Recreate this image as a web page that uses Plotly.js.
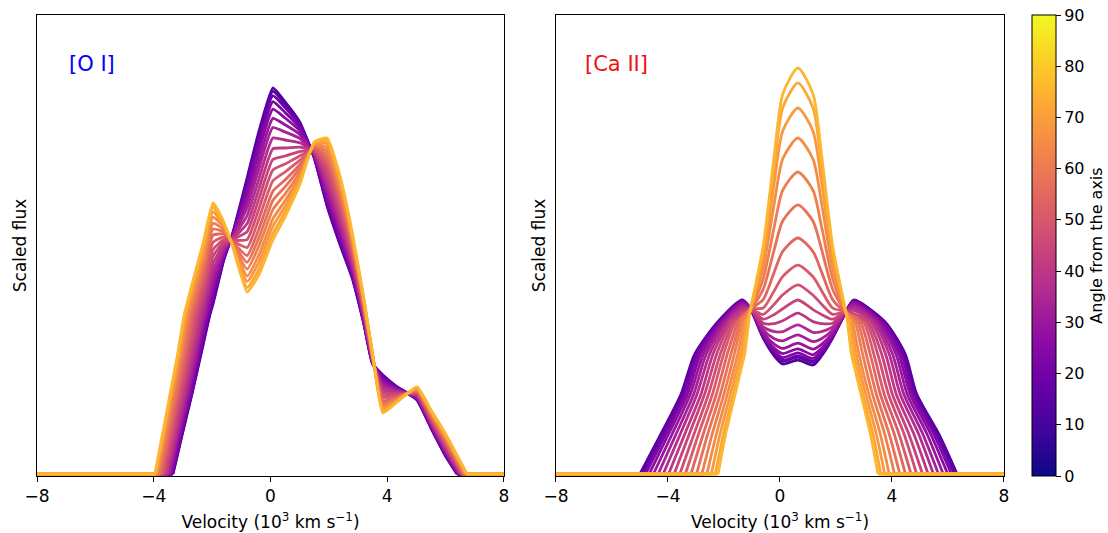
<!DOCTYPE html>
<html><head><meta charset="utf-8">
<script src="https://cdn.plot.ly/plotly-3.0.1.min.js"></script>
<style>body{margin:0;background:#fff}#chart{width:1108px;height:533px}</style>
</head><body><div id="chart"></div>
<script>
// ---------- data ----------
const angles = [0,5,10,15,20,25,30,35,40,45,50,55,60,65,70,75,80,85,90];
const velEdges = [-8, 8];
const velTicks = [-8, -4, 0, 4, 8];
const angleTicks = [0,10,20,30,40,50,60,70,80,90];

// [O I] : left wing (velocity where flux reaches given levels)
const oiWingFlux = [0, 10, 20, 30, 40];
const oiWingVel = [
 [-3.34,-3.02,-2.69,-2.38,-2.07],[-3.35,-3.03,-2.70,-2.39,-2.08],[-3.36,-3.04,-2.71,-2.40,-2.10],
 [-3.38,-3.07,-2.74,-2.44,-2.13],[-3.41,-3.10,-2.78,-2.48,-2.18],[-3.45,-3.14,-2.82,-2.52,-2.22],
 [-3.48,-3.18,-2.86,-2.56,-2.27],[-3.53,-3.22,-2.92,-2.62,-2.33],[-3.57,-3.27,-2.97,-2.68,-2.40],
 [-3.62,-3.33,-3.03,-2.74,-2.47],[-3.67,-3.38,-3.09,-2.80,-2.54],[-3.72,-3.43,-3.15,-2.87,-2.61],
 [-3.76,-3.48,-3.20,-2.92,-2.67],[-3.80,-3.53,-3.25,-2.98,-2.73],[-3.85,-3.58,-3.31,-3.04,-2.79],
 [-3.89,-3.62,-3.35,-3.08,-2.84],[-3.92,-3.65,-3.39,-3.12,-2.89],[-3.94,-3.68,-3.42,-3.16,-2.92],
 [-3.96,-3.70,-3.44,-3.18,-2.95]];
// [O I] : core profile
const oiCoreVel = [-2.3,-1.97,-1.6,-1.3,-0.8,-0.4,0.08,0.5,1.0,1.5,1.94,2.4,2.8,3.2,3.5,3.85,4.3,5.02,5.5,6.0];
const oiCoreFlux = [
 [32.6,42.5,53.5,60.0,74.0,85.5,96.5,93.0,88.0,79.0,67.0,57.0,49.0,37.5,27.5,24.75,22.0,18.5,11.5,4.5],
 [33.1,43.0,53.7,59.9,73.4,84.8,95.7,92.4,87.7,79.1,67.3,57.3,49.2,37.6,27.6,24.6,21.9,18.6,11.6,4.6],
 [33.9,43.8,54.0,59.9,72.6,83.7,94.6,91.6,87.2,79.2,67.9,57.9,49.6,37.8,27.6,24.3,21.8,18.7,11.7,4.8],
 [34.9,44.8,54.4,59.7,71.4,82.3,93.1,90.4,86.6,79.4,68.5,58.5,50.0,38.1,27.7,23.9,21.6,18.8,11.9,5.0],
 [36.2,46.0,54.8,59.6,70.0,80.5,91.2,89.0,85.8,79.6,69.4,59.4,50.6,38.4,27.9,23.4,21.4,19.0,12.1,5.3],
 [37.7,47.6,55.4,59.4,68.3,78.3,88.9,87.3,84.9,79.8,70.4,60.4,51.3,38.8,28.0,22.9,21.2,19.2,12.4,5.6],
 [39.2,49.1,56.0,59.2,66.6,76.2,86.6,85.5,83.9,80.0,71.4,61.4,52.0,39.2,28.2,22.3,20.9,19.4,12.7,5.9],
 [41.0,50.8,56.6,59.0,64.6,73.7,84.0,83.5,82.8,80.3,72.6,62.6,52.8,39.6,28.3,21.6,20.6,19.6,13.0,6.3],
 [42.8,52.6,57.3,58.8,62.6,71.2,81.3,81.5,81.7,80.6,73.8,63.8,53.6,40.1,28.5,21.0,20.3,19.8,13.3,6.7],
 [44.5,54.4,58.0,58.6,60.6,68.7,78.6,79.5,80.6,80.9,75.0,65.0,54.4,40.5,28.7,20.3,20.0,20.0,13.6,7.1],
 [46.3,56.1,58.6,58.4,58.6,66.2,76.0,77.5,79.5,81.2,76.2,66.2,55.2,41.0,28.9,19.6,19.7,20.3,13.9,7.5],
 [48.1,57.9,59.3,58.2,56.6,63.7,73.3,75.5,78.4,81.4,77.4,67.4,56.0,41.4,29.0,19.0,19.4,20.5,14.3,7.9],
 [49.9,59.7,60.0,58.0,54.6,61.2,70.7,73.5,77.3,81.7,78.6,68.6,56.8,41.9,29.2,18.3,19.1,20.7,14.6,8.2],
 [51.4,61.2,60.5,57.8,52.9,59.0,68.4,71.8,76.4,82.0,79.6,69.6,57.4,42.2,29.4,17.7,18.9,20.9,14.8,8.6],
 [52.9,62.7,61.1,57.6,51.2,56.9,66.1,70.0,75.4,82.2,80.6,70.6,58.1,42.6,29.5,17.2,18.6,21.1,15.1,8.9],
 [54.4,64.2,61.7,57.4,49.5,54.7,63.8,68.3,74.5,82.4,81.6,71.6,58.8,43.0,29.7,16.6,18.3,21.3,15.4,9.2],
 [55.7,65.5,62.2,57.3,48.1,52.9,61.9,66.9,73.7,82.6,82.5,72.5,59.4,43.3,29.8,16.1,18.1,21.5,15.6,9.5],
 [57.0,66.7,62.6,57.1,46.6,51.1,60.0,65.5,72.9,82.8,83.3,73.3,59.9,43.6,29.9,15.6,17.9,21.6,15.8,9.8],
 [58.0,67.75,63.0,57.0,45.5,49.7,58.5,64.3,72.3,83.0,84.0,74.0,60.4,43.9,30.0,15.25,17.75,21.75,16.0,10.0]];
const oiRightFoot = [6.39,6.40,6.41,6.42,6.44,6.46,6.48,6.50,6.53,6.55,6.57,6.60,6.62,6.64,6.66,6.68,6.70,6.72,6.73];

// [Ca II] : wings and core
const caLeftWingFlux = [0, 10, 20, 30, 38];
const caLeftWingVel = [
 [-5.00,-4.25,-3.53,-3.04,-2.22],[-4.97,-4.22,-3.51,-3.02,-2.21],[-4.90,-4.17,-3.46,-2.98,-2.18],
 [-4.80,-4.08,-3.39,-2.91,-2.14],[-4.67,-3.98,-3.30,-2.83,-2.09],[-4.52,-3.85,-3.20,-2.73,-2.03],
 [-4.35,-3.71,-3.08,-2.63,-1.96],[-4.17,-3.56,-2.96,-2.51,-1.89],[-3.98,-3.40,-2.82,-2.39,-1.82],
 [-3.78,-3.24,-2.69,-2.26,-1.74],[-3.58,-3.07,-2.55,-2.13,-1.66],[-3.38,-2.91,-2.41,-2.01,-1.58],
 [-3.18,-2.74,-2.27,-1.88,-1.50],[-2.98,-2.58,-2.13,-1.75,-1.42],[-2.79,-2.42,-2.00,-1.63,-1.37],
 [-2.61,-2.27,-1.88,-1.51,-1.28],[-2.45,-2.14,-1.77,-1.41,-1.21],[-2.31,-2.02,-1.67,-1.32,-1.16],
 [-2.21,-1.94,-1.60,-1.26,-1.12]];
const caCoreVel = [-1.35,-1.07,-0.6,-0.2,0.1,0.64,1.18,1.48,1.88,2.35,2.63];
const caCoreFlux = [
 [43.5,41.5,34.0,29.5,27.5,28.5,27.25,29.5,34.0,40.5,43.5],
 [43.3,41.5,34.2,30.0,28.2,29.2,27.9,30.0,34.2,40.5,43.3],
 [43.3,41.5,34.3,30.2,28.4,29.5,28.2,30.2,34.3,40.5,43.3],
 [43.1,41.5,34.6,30.7,29.1,30.3,28.9,30.7,34.6,40.5,43.1],
 [42.9,41.5,34.9,31.4,30.1,31.3,29.8,31.4,34.9,40.5,42.9],
 [42.5,41.4,35.3,32.4,31.4,32.7,31.2,32.4,35.3,40.5,42.5],
 [42.1,41.4,36.0,33.8,33.3,34.8,33.1,33.8,36.0,40.5,42.1],
 [41.5,41.4,36.8,35.6,35.6,37.3,35.4,35.6,36.8,40.5,41.5],
 [40.9,41.3,37.7,37.6,38.3,40.2,38.1,37.6,37.7,40.5,40.9],
 [40.1,41.3,38.7,39.9,41.3,43.5,41.1,39.9,38.7,40.5,40.1],
 [39.3,41.2,39.9,42.5,44.8,47.3,44.7,42.5,39.9,40.5,39.3],
 [38.1,41.2,41.5,45.9,49.4,52.2,49.3,45.9,41.5,40.5,38.1],
 [39.5,41.1,43.6,50.6,55.7,59.0,55.6,50.6,43.6,40.5,39.5],
 [39.0,41.0,46.2,56.3,63.3,67.3,63.2,56.3,46.2,40.5,39.0],
 [38.5,40.9,48.8,62.0,71.0,75.5,70.9,62.0,48.8,40.5,38.5],
 [35.6,40.7,51.5,67.9,78.8,84.0,78.7,67.9,51.5,40.5,36.9],
 [32.4,40.6,53.8,73.1,85.8,91.5,85.7,73.1,53.8,40.5,33.8],
 [29.1,40.6,55.8,77.4,91.6,97.8,91.5,77.4,55.8,40.5,29.7],
 [27.4,40.5,57.0,80.0,95.0,101.5,95.0,80.0,57.0,40.5,27.6]];
const caRightWingFlux = [38, 30, 20, 10, 0];
const caRightWingVel = [
 [3.75,4.47,4.88,5.67,6.32],[3.74,4.45,4.86,5.64,6.29],[3.70,4.40,4.81,5.58,6.22],
 [3.65,4.33,4.74,5.49,6.12],[3.59,4.24,4.65,5.38,5.99],[3.52,4.14,4.54,5.25,5.83],
 [3.44,4.02,4.42,5.10,5.66],[3.35,3.90,4.29,4.95,5.48],[3.26,3.77,4.15,4.78,5.29],
 [3.16,3.63,4.01,4.60,5.09],[3.07,3.49,3.87,4.43,4.88],[2.97,3.35,3.72,4.25,4.68],
 [2.88,3.22,3.58,4.08,4.48],[2.78,3.08,3.44,3.90,4.28],[2.69,2.95,3.30,3.74,4.09],
 [2.60,2.82,3.17,3.58,3.90],[2.53,2.72,3.06,3.44,3.74],[2.46,2.62,2.96,3.32,3.60],
 [2.41,2.55,2.89,3.23,3.50]];

// ---------- colours (matplotlib plasma) ----------
const plasmaStops = ['#0d0887','#41049d','#6a00a8','#8f0da4','#b12a90','#cc4778','#e16462','#f2844b','#fca636','#fcce25','#f0f921'];
function hex2rgb(h){return [parseInt(h.slice(1,3),16),parseInt(h.slice(3,5),16),parseInt(h.slice(5,7),16)];}
function plasma(t){
  t=Math.max(0,Math.min(1,t));
  const s=t*(plasmaStops.length-1), i=Math.min(Math.floor(s),plasmaStops.length-2), f=s-i;
  const a=hex2rgb(plasmaStops[i]), b=hex2rgb(plasmaStops[i+1]);
  return 'rgb('+a.map((v,k)=>Math.round(v+(b[k]-v)*f)).join(',')+')';
}
const plasmaScale = plasmaStops.map((c,i)=>[i/(plasmaStops.length-1), c]);
const lineColor = a => plasma(0.13 + 0.71*a/90);

// ---------- build traces ----------
function curve(pts){ pts.sort((p,q)=>p[0]-q[0]); return {x:pts.map(p=>p[0]), y:pts.map(p=>p[1])}; }
const traces = [];
function addCurve(pts, leftFoot, rightFoot, a, xa, ya, smooth){
  const c=curve(pts);
  const col=lineColor(a);
  // flat continuum outside the line
  traces.push({type:'scatter',mode:'lines',x:[velEdges[0],leftFoot,null,rightFoot,velEdges[1]],y:[0,0,null,0,0],
    xaxis:xa,yaxis:ya,line:{color:col,width:2.8},hoverinfo:'skip',showlegend:false});
  traces.push({type:'scatter',mode:'lines',x:c.x,y:c.y,xaxis:xa,yaxis:ya,
    line:{color:col,width:2.8,shape:'spline',smoothing:smooth},hoverinfo:'skip',showlegend:false});
}
angles.forEach((a,i)=>{
  const pts=[[oiRightFoot[i],0]];
  oiWingFlux.forEach((f,k)=>pts.push([oiWingVel[i][k],f]));
  oiCoreVel.forEach((v,k)=>pts.push([v,oiCoreFlux[i][k]]));
  addCurve(pts, oiWingVel[i][0], oiRightFoot[i], a, 'x', 'y', 0.45);
});
angles.forEach((a,i)=>{
  const pts=[];
  caLeftWingFlux.forEach((f,k)=>pts.push([caLeftWingVel[i][k],f]));
  caCoreVel.forEach((v,k)=>pts.push([v,caCoreFlux[i][k]]));
  caRightWingFlux.forEach((f,k)=>pts.push([caRightWingVel[i][k],f]));
  addCurve(pts, caLeftWingVel[i][0], caRightWingVel[i][caRightWingVel[i].length-1], a, 'x2', 'y2', 0.7);
});
// colour bar carrier
traces.push({type:'scatter',mode:'markers',x:[velEdges[0]-5],y:[-50],xaxis:'x2',yaxis:'y2',
  hoverinfo:'skip',showlegend:false,
  marker:{size:1,opacity:0,color:[angles[0]],cmin:angles[0],cmax:angles[angles.length-1],colorscale:plasmaScale,showscale:true,
    colorbar:{x:1.029,xanchor:'left',y:0.5,yanchor:'middle',len:1,lenmode:'fraction',thickness:24,thicknessmode:'pixels',
      xpad:0,ypad:0,outlinewidth:1,outlinecolor:'#000',tickvals:angleTicks,ticks:'outside',ticklen:5,tickcolor:'#000',
      tickfont:{family:'DejaVu Sans',size:16,color:'#000'},
      title:{text:'Angle from the axis',side:'right',font:{family:'DejaVu Sans',size:16,color:'#000'}}}}});

const font = {family:'DejaVu Sans',size:17,color:'#000'};
const xcommon = {range:velEdges,tickvals:velTicks,ticks:'outside',ticklen:5,tickcolor:'#000',showline:true,linecolor:'#000',
  linewidth:1,mirror:true,showgrid:false,zeroline:false,tickfont:font,automargin:false,
  title:{text:'Velocity (10<sup>3</sup> km s<sup>\u22121</sup>)',font:font,standoff:10}};
const ycommon = {range:[-0.5,114.75],showticklabels:false,ticks:'',showline:true,linecolor:'#000',linewidth:1,mirror:true,
  showgrid:false,zeroline:false,automargin:false,title:{text:'Scaled flux',font:font,standoff:5}};

const layout = {
  width:1108,height:533,margin:{l:37,r:104,t:15,b:57,autoexpand:false},paper_bgcolor:'#fff',plot_bgcolor:'#fff',font:font,
  xaxis:Object.assign({},xcommon,{domain:[0,0.4829],anchor:'y'}),
  yaxis:Object.assign({},ycommon,{domain:[0,1],anchor:'x'}),
  xaxis2:Object.assign({},xcommon,{domain:[0.5367,1],anchor:'y2'}),
  yaxis2:Object.assign({},ycommon,{domain:[0,1],anchor:'x2'}),
  annotations:[
    {text:'[O I]',xref:'x domain',yref:'y domain',x:0.064,y:0.894,xanchor:'left',yanchor:'middle',showarrow:false,
     font:{family:'DejaVu Sans',size:21,color:'#0000ff'}},
    {text:'[Ca II]',xref:'x2 domain',yref:'y2 domain',x:0.06,y:0.894,xanchor:'left',yanchor:'middle',showarrow:false,
     font:{family:'DejaVu Sans',size:21,color:'#ee1111'}}
  ]
};
Plotly.newPlot('chart',traces,layout,{displayModeBar:false,staticPlot:true});
</script></body></html>
